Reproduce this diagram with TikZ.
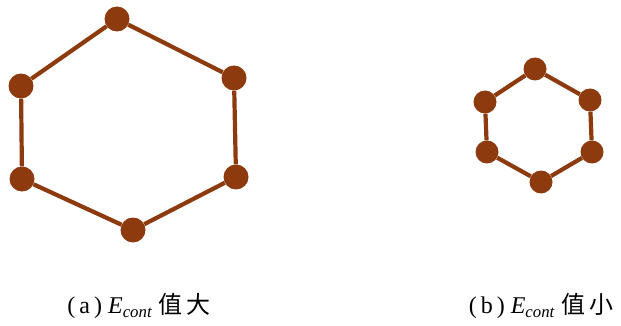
\documentclass[tikz,border=0pt]{standalone}
\usepackage{fontspec}
\setmainfont{Liberation Serif}
\newfontfamily\cjk{Noto Sans CJK SC}
\usetikzlibrary{positioning}
\definecolor{rust}{RGB}{140,58,14}
\tikzset{
  atom/.style      = {circle, fill=rust, inner sep=0pt, minimum size=25pt},
  smallatom/.style = {atom, minimum size=23pt},
  bond/.style      = {draw=rust, line width=4.2pt},
  caption/.style   = {font=\fontsize{24}{28}\selectfont, inner sep=0pt},
}

\begin{document}
\begin{tikzpicture}[x=1pt,y=-1pt]
  \useasboundingbox (0,0) rectangle (621,326);
  % large contour
  \foreach \n/\x/\y in {1/117/19,2/234/78,3/236/177,4/133/230,5/22/179,6/21/86}
    {\node[atom] (a\n) at (\x,\y) {};}
  % small contour
  \foreach \n/\x/\y in {1/535/69,2/590/100,3/592/152,4/541/182,5/487/152,6/485/102}
    {\node[smallatom] (b\n) at (\x,\y) {};}
  \foreach \i/\j in {1/2,2/3,3/4,4/5,5/6,6/1}
    {\draw[bond] (a\i) -- (a\j);
     \draw[bond] (b\i) -- (b\j);}
  \node[caption] (capa) at (139,306) {(\,a\,) \textit{E}\textsubscript{\textit{cont}} {\cjk 值\,大}};
  \node[caption] (capb) at (541,306) {(\,b\,) \textit{E}\textsubscript{\textit{cont}} {\cjk 值\,小}};
\end{tikzpicture}
\end{document}
